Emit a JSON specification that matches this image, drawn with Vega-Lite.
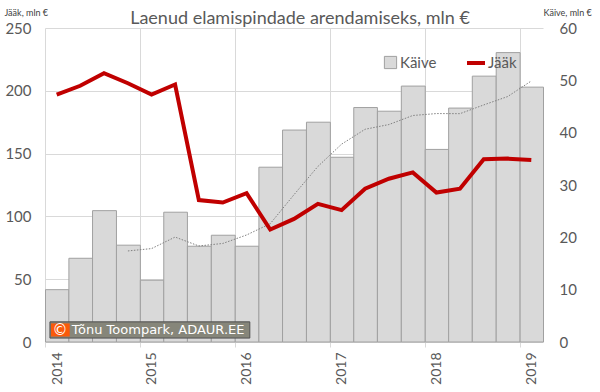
{
  "$schema": "https://vega.github.io/schema/vega-lite/v6.json",
  "width": 498,
  "height": 314,
  "autosize": "none",
  "padding": {"left": 45, "top": 28, "right": 57, "bottom": 50},
  "background": "white",
  "title": {"text": "Laenud elamispindade arendamiseks, mln €", "font": "Lato", "fontSize": 18, "fontWeight": "normal", "color": "#595959", "anchor": "middle", "frame": "group", "baseline": "bottom", "dx": 6, "offset": -38},
  "config": {
    "view": {"stroke": null},
    "axis": {"labelFont": "Lato", "labelFontSize": 15, "labelColor": "#595959", "domain": false, "gridColor": "#d9d9d9", "titleFont": "Lato"},
    "legend": {"labelFont": "Lato", "labelFontSize": 15, "labelColor": "#595959"}
  },
  "data": {"values": [
    {"date": "2014-01-01", "kaive": 10.0, "jaak": 197, "ma": null},
    {"date": "2014-04-01", "kaive": 16.0, "jaak": 204, "ma": null},
    {"date": "2014-07-01", "kaive": 25.1, "jaak": 214, "ma": null},
    {"date": "2014-10-01", "kaive": 18.5, "jaak": 206, "ma": 17.4},
    {"date": "2015-01-01", "kaive": 11.8, "jaak": 197, "ma": 17.85},
    {"date": "2015-04-01", "kaive": 24.8, "jaak": 205, "ma": 20.05},
    {"date": "2015-07-01", "kaive": 18.3, "jaak": 113, "ma": 18.35},
    {"date": "2015-10-01", "kaive": 20.4, "jaak": 111, "ma": 18.83},
    {"date": "2016-01-01", "kaive": 18.3, "jaak": 118.5, "ma": 20.45},
    {"date": "2016-04-01", "kaive": 33.4, "jaak": 89.5, "ma": 22.6},
    {"date": "2016-07-01", "kaive": 40.5, "jaak": 98, "ma": 28.15},
    {"date": "2016-10-01", "kaive": 42.0, "jaak": 110, "ma": 33.55},
    {"date": "2017-01-01", "kaive": 35.3, "jaak": 105, "ma": 37.8},
    {"date": "2017-04-01", "kaive": 44.8, "jaak": 122, "ma": 40.65},
    {"date": "2017-07-01", "kaive": 44.1, "jaak": 130, "ma": 41.55},
    {"date": "2017-10-01", "kaive": 48.9, "jaak": 135, "ma": 43.28},
    {"date": "2018-01-01", "kaive": 36.8, "jaak": 119, "ma": 43.65},
    {"date": "2018-04-01", "kaive": 44.7, "jaak": 122, "ma": 43.63},
    {"date": "2018-07-01", "kaive": 50.8, "jaak": 145.5, "ma": 45.3},
    {"date": "2018-10-01", "kaive": 55.3, "jaak": 146, "ma": 46.9},
    {"date": "2019-01-01", "kaive": 48.7, "jaak": 145, "ma": 49.88}
  ]},
  "layer": [
    {
      "layer": [
        {
          "mark": {"type": "bar", "stroke": "#a0a0a0", "strokeWidth": 1, "binSpacing": 0},
          "encoding": {
            "x": {"field": "date", "type": "temporal", "timeUnit": "utcyearquarter",
              "scale": {"type": "utc", "domain": [{"year": 2014, "utc": true}, {"year": 2019, "month": 4, "utc": true}]},
              "axis": {"values": [{"year": 2014, "utc": true}, {"year": 2015, "utc": true}, {"year": 2016, "utc": true}, {"year": 2017, "utc": true}, {"year": 2018, "utc": true}, {"year": 2019, "utc": true}],
                "format": "%Y", "labelAngle": -90, "labelOffset": 12, "labelPadding": 5, "tickSize": 5, "tickColor": "#d9d9d9", "grid": true, "title": null, "labelFontSize": 14}},
            "y": {"field": "kaive", "type": "quantitative", "scale": {"domain": [0, 60]},
              "axis": {"orient": "right", "values": [0, 10, 20, 30, 40, 50, 60], "grid": false, "ticks": false, "labelPadding": 16,
                "title": "Käive, mln €", "titleAngle": 0, "titleX": 0, "titleY": -13, "titleAlign": "left", "titleBaseline": "alphabetic", "titleFontSize": 9, "titleFontWeight": "normal", "titleColor": "#404040"}},
            "fill": {"datum": "Käive", "type": "nominal", "scale": {"range": ["#d9d9d9"]},
              "legend": {"title": null, "orient": "none", "legendX": 338, "legendY": 27, "symbolType": "square", "symbolSize": 150, "symbolStrokeColor": "#a0a0a0", "symbolStrokeWidth": 1, "labelOffset": 2, "padding": 0}}
          }
        },
        {
          "mark": {"type": "line", "color": "#808080", "strokeWidth": 1, "strokeDash": [1.5, 1.5]},
          "encoding": {
            "x": {"field": "date", "type": "temporal", "timeUnit": "utcyearquarter", "bandPosition": 0.5},
            "y": {"field": "ma", "type": "quantitative"}
          }
        },
        {
          "data": {"values": [{}]},
          "mark": {"type": "rect", "fill": "#86867a", "stroke": "#505050", "strokeWidth": 1},
          "encoding": {
            "x": {"datum": {"year": 2014, "month": 1, "date": 20, "utc": true}, "type": "temporal"},
            "x2": {"datum": {"year": 2016, "month": 2, "date": 28, "utc": true}},
            "y": {"datum": 3.85, "type": "quantitative"},
            "y2": {"datum": 0.75}
          }
        },
        {
          "data": {"values": [{}]},
          "mark": {"type": "rect", "fill": "#fa5a0a"},
          "encoding": {
            "x": {"datum": {"year": 2014, "month": 1, "date": 24, "utc": true}, "type": "temporal"},
            "x2": {"datum": {"year": 2014, "month": 4, "date": 6, "utc": true}},
            "y": {"datum": 3.55, "type": "quantitative"},
            "y2": {"datum": 1.05}
          }
        },
        {
          "data": {"values": [{"t": "©"}]},
          "mark": {"type": "text", "color": "white", "font": "DejaVu Sans", "fontSize": 15, "align": "center", "baseline": "middle"},
          "encoding": {
            "x": {"datum": {"year": 2014, "month": 2, "date": 28, "utc": true}, "type": "temporal"},
            "y": {"datum": 2.3, "type": "quantitative"},
            "text": {"field": "t"}
          }
        },
        {
          "data": {"values": [{"t": "Tõnu Toompark, ADAUR.EE"}]},
          "mark": {"type": "text", "color": "white", "font": "DejaVu Sans", "fontSize": 13, "align": "left", "baseline": "middle"},
          "encoding": {
            "x": {"datum": {"year": 2014, "month": 4, "date": 14, "utc": true}, "type": "temporal"},
            "y": {"datum": 2.3, "type": "quantitative"},
            "text": {"field": "t"}
          }
        }
      ]
    },
    {
      "mark": {"type": "line", "strokeWidth": 4},
      "encoding": {
        "x": {"field": "date", "type": "temporal", "timeUnit": "utcyearquarter", "bandPosition": 0.5},
        "y": {"field": "jaak", "type": "quantitative", "scale": {"domain": [0, 250]},
          "axis": {"orient": "left", "values": [0, 50, 100, 150, 200, 250], "grid": true, "ticks": false, "labelPadding": 14,
            "title": "Jääk, mln €", "titleAngle": 0, "titleX": -41, "titleY": -13, "titleAlign": "left", "titleBaseline": "alphabetic", "titleFontSize": 9, "titleFontWeight": "normal", "titleColor": "#404040"}},
        "stroke": {"datum": "Jääk", "type": "nominal", "scale": {"range": ["#c00000"]},
          "legend": {"title": null, "orient": "none", "legendX": 420, "legendY": 24, "symbolType": "stroke", "symbolSize": 324, "symbolStrokeWidth": 4, "labelOffset": 1, "padding": 0}}
      }
    }
  ],
  "resolve": {"scale": {"y": "independent"}, "axis": {"y": "independent"}}
}
